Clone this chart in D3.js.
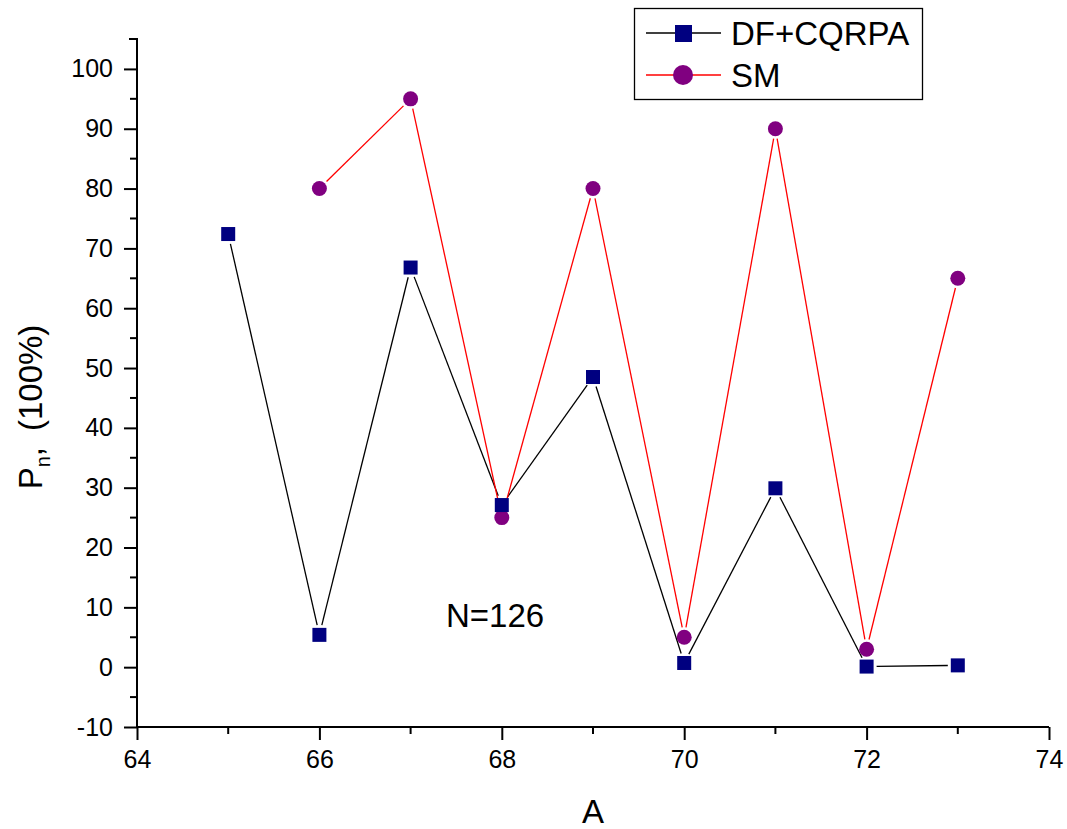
<!DOCTYPE html>
<html>
  <head>
    <meta charset="utf-8">
    <style>
      body { margin: 0; background: #fff; }
      text { font-family: "Liberation Sans", Arial, sans-serif; }
    </style>
    <script src="https://d3js.org/d3.v7.min.js"></script>
  </head>
  <body>
    <svg width="1067" height="829"></svg>
    <script>
      var xA = [65, 66, 67, 68, 69, 70, 71, 72, 73];
      var dfValues = [72.4, 5.4, 66.8, 27.1, 48.5, 0.7, 29.9, 0.1, 0.3];
      var smA = [66, 67, 68, 69, 70, 71, 72, 73];
      var smValues = [80, 95, 25, 80, 5, 90, 3, 65];
      var xTicks = [64, 66, 68, 70, 72, 74];
      var yTicks = [-10, 0, 10, 20, 30, 40, 50, 60, 70, 80, 90, 100];

      var svg = d3.select("svg");
      var plotLeft = 137, plotRight = 1049, plotTop = 39, plotBottom = 727;

      var x = d3.scaleLinear().domain([64, 74]).range([plotLeft, plotRight]);
      var y = d3.scaleLinear().domain([-10, 105]).range([plotBottom, plotTop]);

      // minor ticks
      var xMinor = d3.range(65, 74, 2);
      var yMinor = d3.range(-5, 105, 10);

      var xAxis = svg.append("g").attr("transform", "translate(0," + plotBottom + ")");
      xAxis.call(d3.axisBottom(x).tickValues(xTicks).tickSize(13).tickPadding(10)
        .tickFormat(function (d) { return String(d); }));
      xAxis.selectAll("line.minor").data(xMinor).enter().append("line")
        .attr("class", "minor")
        .attr("x1", function (d) { return x(d); }).attr("x2", function (d) { return x(d); })
        .attr("y1", 0).attr("y2", 7);

      var yAxis = svg.append("g").attr("transform", "translate(" + plotLeft + ",0)");
      yAxis.call(d3.axisLeft(y).tickValues(yTicks).tickSize(13).tickPadding(11)
        .tickFormat(function (d) { return String(d); }));
      yAxis.selectAll("line.minor").data(yMinor).enter().append("line")
        .attr("class", "minor")
        .attr("y1", function (d) { return y(d); }).attr("y2", function (d) { return y(d); })
        .attr("x1", 0).attr("x2", -7);

      xAxis.selectAll("line").attr("stroke", "#000").attr("stroke-width", 2);
      yAxis.selectAll("line").attr("stroke", "#000").attr("stroke-width", 2);
      xAxis.select(".domain").attr("stroke", "#000").attr("stroke-width", 2)
        .attr("d", "M" + plotLeft + ",0H" + plotRight);
      yAxis.select(".domain").attr("stroke", "#000").attr("stroke-width", 2)
        .attr("d", "M0," + plotBottom + "V" + plotTop + "H-8");
      svg.selectAll(".tick text").attr("fill", "#000")
        .style("font-size", "25px")
        .style("font-family", "Liberation Sans, Arial, sans-serif");

      // gapped line segments like the original plot
      function gapped(xs, ys, color, gap) {
        var g = svg.append("g");
        for (var i = 0; i < xs.length - 1; i++) {
          var x1 = x(xs[i]), y1 = y(ys[i]), x2 = x(xs[i + 1]), y2 = y(ys[i + 1]);
          var dx = x2 - x1, dy = y2 - y1, len = Math.sqrt(dx * dx + dy * dy);
          if (len <= 2 * gap) continue;
          var ux = dx / len, uy = dy / len;
          g.append("line")
            .attr("x1", x1 + ux * gap).attr("y1", y1 + uy * gap)
            .attr("x2", x2 - ux * gap).attr("y2", y2 - uy * gap)
            .attr("stroke", color).attr("stroke-width", 1.3);
        }
      }

      gapped(xA, dfValues, "#000", 10);
      gapped(smA, smValues, "#ff0000", 10);

      svg.append("g").selectAll("circle").data(smValues).enter().append("circle")
        .attr("cx", function (d, i) { return x(smA[i]); })
        .attr("cy", function (d) { return y(d); })
        .attr("r", 7.5).attr("fill", "#800080");

      svg.append("g").selectAll("rect").data(dfValues).enter().append("rect")
        .attr("x", function (d, i) { return x(xA[i]) - 7; })
        .attr("y", function (d) { return y(d) - 7; })
        .attr("width", 14).attr("height", 14).attr("fill", "#000080");

      // annotation
      svg.append("text").attr("x", 446).attr("y", 627).style("font-size", "33px").text("N=126");

      // axis titles
      svg.append("text").attr("x", 593).attr("y", 823).attr("text-anchor", "middle")
        .style("font-size", "33px").text("A");
      var yt = svg.append("text").attr("transform", "translate(42,407) rotate(-90)")
        .attr("text-anchor", "middle").style("font-size", "33px");
      yt.append("tspan").text("P");
      yt.append("tspan").style("font-size", "20px").attr("dy", 8).text("n");
      yt.append("tspan").attr("dy", -8).text(",");
      yt.append("tspan").attr("dx", 16).text("(100%)");

      // legend
      var lg = svg.append("g");
      lg.append("rect").attr("x", 634.5).attr("y", 8.5).attr("width", 288).attr("height", 91)
        .attr("fill", "none").attr("stroke", "#000").attr("stroke-width", 1.3);
      lg.append("line").attr("x1", 646).attr("x2", 721).attr("y1", 33).attr("y2", 33)
        .attr("stroke", "#000").attr("stroke-width", 1.3);
      lg.append("rect").attr("x", 675).attr("y", 25).attr("width", 17).attr("height", 17).attr("fill", "#000080");
      lg.append("line").attr("x1", 646).attr("x2", 721).attr("y1", 75).attr("y2", 75)
        .attr("stroke", "#ff0000").attr("stroke-width", 1.3);
      lg.append("circle").attr("cx", 683).attr("cy", 75).attr("r", 10).attr("fill", "#800080");
      lg.append("text").attr("x", 731).attr("y", 45).style("font-size", "33px").text("DF+CQRPA");
      lg.append("text").attr("x", 731).attr("y", 87).style("font-size", "33px").text("SM");
    </script>
  </body>
</html>
